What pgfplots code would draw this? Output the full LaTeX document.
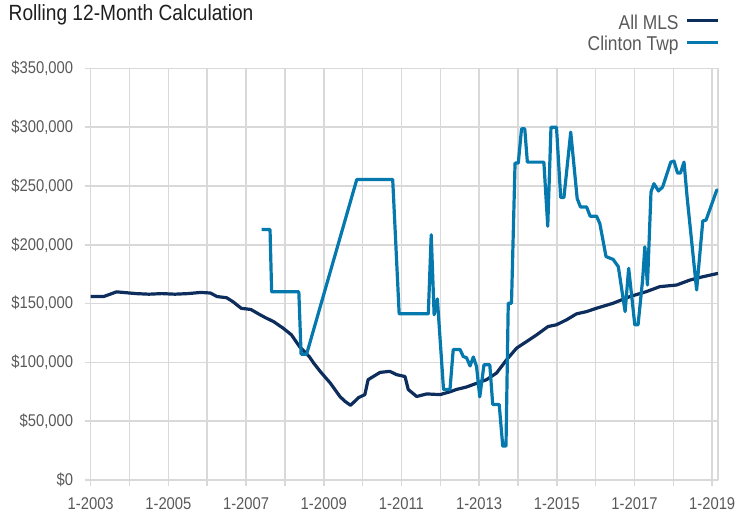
\documentclass[border=0pt]{standalone}
\usepackage{pgfplots}
\pgfplotsset{compat=1.18}
\usepackage{fontspec}
\setmainfont{Liberation Sans}[FakeStretch=0.87]
\definecolor{navy}{RGB}{13,45,92}
\definecolor{clin}{RGB}{5,121,174}
\definecolor{gridc}{RGB}{217,217,217}
\definecolor{lab}{RGB}{89,89,89}
\begin{document}
\begin{tikzpicture}
\useasboundingbox (0pt,0pt) rectangle (736pt,515pt);
\node[anchor=base west, inner sep=0pt, text=black!88, font=\fontsize{22}{24}\selectfont] at (8.5pt,494.3pt) {Rolling 12-Month Calculation};
\begin{axis}[
  at={(90.7pt,35pt)}, anchor=south west,
  scale only axis, width=627.3pt, height=411.6pt,
  xmin=0, xmax=193.8, ymin=0, ymax=350000,
  axis line style={gridc, line width=1.5pt},
  grid=major, major grid style={gridc, line width=1.5pt},
  xtick={0,12,...,192},
  xticklabels={1-2003,,1-2005,,1-2007,,1-2009,,1-2011,,1-2013,,1-2015,,1-2017,,1-2019},
  ytick={0,50000,...,350000},
  yticklabels={\$0,{\$50,000},{\$100,000},{\$150,000},{\$200,000},{\$250,000},{\$300,000},{\$350,000}},
  scaled y ticks=false,
  /pgf/number format/assume math mode=true,
  tick align=outside, major tick length=6pt,
  xtick pos=lower, ytick pos=left,
  tick style={gridc, line width=1.5pt},
  x tick label style={font=\fontsize{17}{17}\selectfont, text=lab, yshift=-8pt},
  y tick label style={font=\fontsize{17}{17}\selectfont, text=lab, xshift=-8pt},
  legend style={at={(1.0032,1.130)}, anchor=north east, draw=none, fill=none,
    inner sep=0pt, font=\fontsize{20}{20}\selectfont, text=lab,
    nodes={inner sep=0pt, text height=14pt, text depth=3pt},
    row sep=4.6pt},
  legend cell align=right,
  legend plot pos=right,
  /tikz/every odd column/.append style={column sep=7pt},
  legend image code/.code={\draw[#1, line width=3.2pt] (0pt,3pt) -- (31pt,3pt);},
  line join=round,
]
\addplot[navy, line width=3.2pt] coordinates {
(0,156000) (4,156000) (8,160000) (10,159500) (14,158500) (18,158000) (22,158500)
(26,158000) (30,158500) (34,159500) (37,159000) (39,156000) (42,155000) (44,151500)
(46.5,146000) (49.5,145000) (52,141000) (54,138000) (56.5,134700) (59.5,129000)
(62,123500) (64.5,113500) (67.5,105000) (69,99000) (71,92000) (74,82500) (77,71000)
(78.5,67000) (80.3,63500) (82.7,70000) (84.7,72600) (85.7,85300) (87.3,88000)
(89.4,91500) (92.4,92400) (94.5,89600) (97.1,88000) (98.1,77000) (100.7,71000)
(103.8,73200) (107.9,72600) (111,75000) (113,77000) (116,79000) (118,81000)
(122.3,85300) (125.4,91000) (128.5,102300) (131.6,112200) (134.7,117800)
(137.8,123500) (141.3,130500) (143.9,132000) (147,136200) (150.1,141300)
(153.2,143200) (156.3,146100) (161.4,150300) (166.6,156000) (171.7,160200)
(175.8,164400) (181,165800) (185.1,170000) (189.2,172900) (193.8,175700)
};
\addlegendentry{All MLS}
\addplot[clin, line width=3.2pt] coordinates {
(52.8,213000) (55.4,213000) (55.9,160000) (64.3,160000) (65,107000) (66.7,107000)
(82.2,255500) (93.3,255500) (95.3,141300) (104.3,141300) (105.2,208500)
(106.1,140500) (107.1,154000) (109,77000) (111,77000) (112,111000) (114.1,111000)
(115.1,105000) (116.1,104000) (117.2,97000) (118.2,104600) (119.2,96600)
(120.2,70700) (121.5,98000) (123.3,98000) (124.2,64200) (126.2,64200)
(127.3,28800) (128.3,28800) (129,150300) (130,150300) (131.1,269500)
(132.1,269500) (133.1,298600) (134.1,298600) (134.9,270300) (140,270300)
(141.2,215800) (142.2,300000) (143.9,300000) (145.2,240200) (146.2,240200)
(148.3,295800) (150.3,239300) (151.3,232200) (153.2,232200) (154.3,224300)
(156.3,224300) (157.3,218000) (159.2,190000) (161.4,187600) (163,181400)
(165.1,143200) (166.2,180000) (168.1,131900) (169.1,131900) (170.5,170000)
(171.2,198300) (172,165800) (173.1,245000) (174,252000) (175.4,245800)
(176.7,249200) (179.2,270300) (180.2,271200) (181.3,261000) (182.2,261000)
(183.3,270300) (184.3,239300) (187.2,161600) (189.1,220300) (190.1,221000)
(193.4,246400) (193.8,246400)
};
\addlegendentry{Clinton Twp}
\end{axis}
\end{tikzpicture}
\end{document}
